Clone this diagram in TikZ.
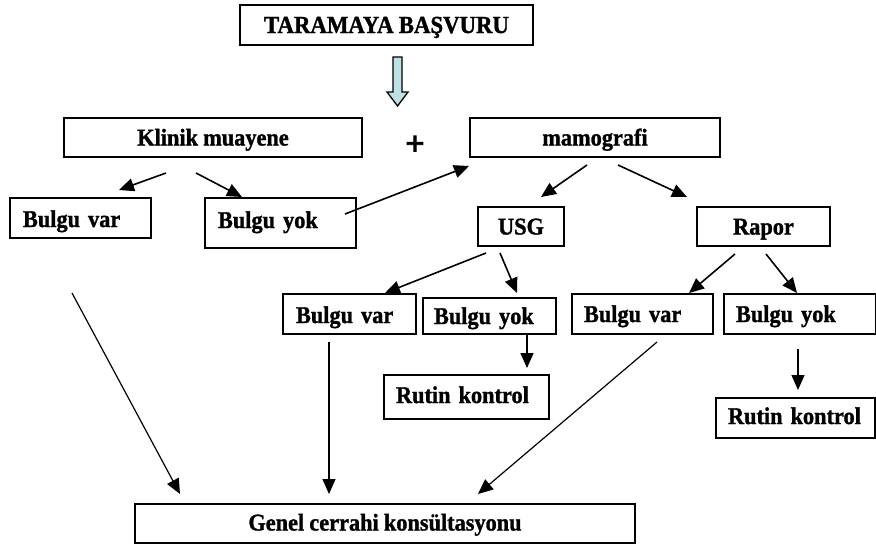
\documentclass[tikz,border=0pt]{standalone}
\usepackage{fontspec}
\setmainfont{Liberation Serif}[BoldFeatures={FakeBold=1.3, FakeStretch=0.93, WordSpace=0.92}]
\newfontfamily\plusfont{Liberation Sans}[FakeBold=3]
\usetikzlibrary{arrows.meta}
\definecolor{arrowfill}{RGB}{190,225,230}
\begin{document}
\begin{tikzpicture}[x=1pt,y=-1pt,
  boxnode/.style={draw, line width=2pt, inner sep=0pt, anchor=north west,
    font=\bfseries\fontsize{24}{28}\selectfont, text height=18pt, text depth=2pt},
  leftbox/.style 2 args={boxnode, minimum width=#1pt, text width=#1pt-2*#2pt, inner xsep=#2pt, align=left},
  conn/.style={line width=1.6pt, -{Triangle[length=15pt,width=13pt]}},
  longconn/.style={line width=1.2pt, -{Triangle[length=15pt,width=13pt]}}]
\useasboundingbox (0,0) rectangle (876,544);

% boxes
\node[boxnode, minimum width=293pt, minimum height=40pt, font=\bfseries\fontsize{24.5}{28}\selectfont] (top) at (239,4) {TARAMAYA BAŞVURU};
\node[boxnode, minimum width=298pt, minimum height=39pt] (klinik) at (63,117) {Klinik muayene};
\node[boxnode, minimum width=250pt, minimum height=39pt] (mamo) at (469,117) {mamografi};
\node[leftbox={141}{13}, minimum height=40pt, text height=19pt, text depth=1pt] (bvarL) at (9,197) {Bulgu var};
\node[leftbox={151}{13}, minimum height=50pt, text height=15pt, text depth=5pt] (byokL) at (204,197) {Bulgu yok};
\node[boxnode, minimum width=86pt, minimum height=39pt] (usg) at (477,206) {USG};
\node[boxnode, minimum width=133pt, minimum height=39pt] (rapor) at (696,206) {Rapor};
\node[leftbox={133}{13}, minimum height=40pt, text height=19pt, text depth=1pt] (bvarM) at (282,293) {Bulgu var};
\node[leftbox={133}{11}, minimum height=36pt] (byokM) at (422,297) {Bulgu yok};
\node[leftbox={141}{12}, minimum height=40pt] (bvarR) at (571,293) {Bulgu var};
\node[leftbox={152}{12}, minimum height=40pt] (byokR) at (723,293) {Bulgu yok};
\node[leftbox={165}{12}, minimum height=44pt, text height=16pt, text depth=4pt] (rutinM) at (383,374) {Rutin kontrol};
\node[leftbox={159}{12}, minimum height=40pt, text height=16pt, text depth=4pt] (rutinR) at (715,397) {Rutin kontrol};
\node[boxnode, minimum width=500pt, minimum height=39pt, text height=17pt, text depth=3pt] (genel) at (134,503) {Genel cerrahi konsültasyonu};

% plus sign
\node[font=\plusfont\fontsize{32}{32}\selectfont, inner sep=0pt] (plus) at (415,145) {+};

% block arrow
\draw[line width=1.3pt, fill=arrowfill, line join=miter]
  (393,57) -- (402,57) -- (402,92) -- (408,92) -- (397.5,106) -- (387,92) -- (393,92) -- cycle;

% connector ends
\coordinate (k1) at (166,173); \coordinate (k1t) at (119,190);
\coordinate (k2) at (196,173); \coordinate (k2t) at (242,197);
\coordinate (y1) at (345,214); \coordinate (y1t) at (469,166);
\coordinate (m1) at (587,165); \coordinate (m1t) at (541,197);
\coordinate (m2) at (618,165); \coordinate (m2t) at (687,197);
\coordinate (u1) at (486,253); \coordinate (u1t) at (385,293);
\coordinate (u2) at (500,253); \coordinate (u2t) at (517,293);
\coordinate (r1) at (735,254); \coordinate (r1t) at (689,293);
\coordinate (r2) at (766,254); \coordinate (r2t) at (797,293);
\coordinate (n1) at (527,334); \coordinate (n1t) at (527,368);
\coordinate (n2) at (798,349); \coordinate (n2t) at (798,390);
\coordinate (g1) at (72,293);  \coordinate (g1t) at (180,494);
\coordinate (g2) at (329,342); \coordinate (g2t) at (329,494);
\coordinate (g3) at (657,342); \coordinate (g3t) at (478,494);

\draw[conn] (k1) -- (k1t);
\draw[conn] (k2) -- (k2t);
\draw[conn] (y1) -- (y1t);
\draw[conn] (m1) -- (m1t);
\draw[conn] (m2) -- (m2t);
\draw[conn] (u1) -- (u1t);
\draw[conn] (u2) -- (u2t);
\draw[conn] (r1) -- (r1t);
\draw[conn] (r2) -- (r2t);
\draw[conn] (n1) -- (n1t);
\draw[longconn] (n2) -- (n2t);
\draw[longconn] (g1) -- (g1t);
\draw[longconn] (g2) -- (g2t);
\draw[longconn] (g3) -- (g3t);
\end{tikzpicture}
\end{document}
